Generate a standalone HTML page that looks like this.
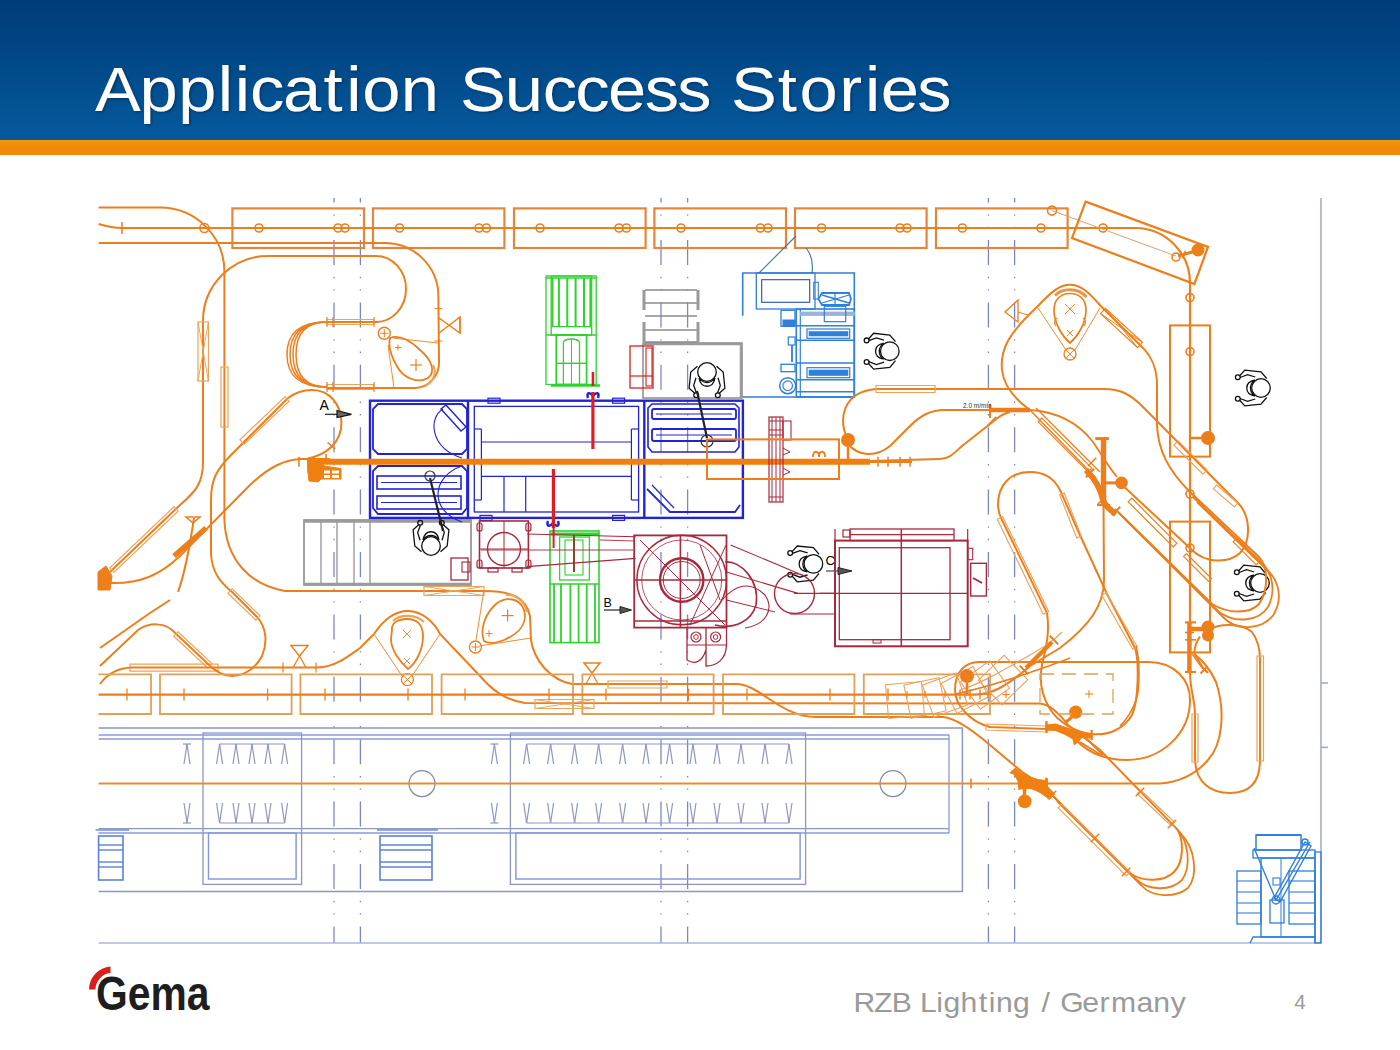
<!DOCTYPE html>
<html><head><meta charset="utf-8">
<style>
html,body{margin:0;padding:0;background:#fff;}
body{width:1400px;height:1050px;position:relative;overflow:hidden;font-family:"Liberation Sans",sans-serif;}
#hdr{position:absolute;left:0;top:0;width:1400px;height:140px;background:linear-gradient(#003b79 0%,#024a8a 50%,#045a9d 100%);}
#bar{position:absolute;left:0;top:140px;width:1400px;height:15px;background:linear-gradient(#f6920c,#ef8907 60%,#f28d0a);}
svg#d{position:absolute;left:0;top:0;}
</style></head><body>
<div id="hdr"></div><div id="bar"></div>
<svg id="d" width="1400" height="1050" viewBox="0 0 1400 1050" font-family="Liberation Sans, sans-serif"><line x1="334" y1="198" x2="334" y2="943" stroke="#7b88c8" stroke-width="1.3" stroke-dasharray="25 11.8 1.4 11 1.4 11.8" stroke-dashoffset="20.4"/>
<line x1="360.4" y1="198" x2="360.4" y2="943" stroke="#7b88c8" stroke-width="1.3" stroke-dasharray="25 11.8 1.4 11 1.4 11.8" stroke-dashoffset="20.4"/>
<line x1="661" y1="198" x2="661" y2="943" stroke="#7b88c8" stroke-width="1.3" stroke-dasharray="25 11.8 1.4 11 1.4 11.8" stroke-dashoffset="20.4"/>
<line x1="687.6" y1="198" x2="687.6" y2="943" stroke="#7b88c8" stroke-width="1.3" stroke-dasharray="25 11.8 1.4 11 1.4 11.8" stroke-dashoffset="20.4"/>
<line x1="988.4" y1="198" x2="988.4" y2="943" stroke="#7b88c8" stroke-width="1.3" stroke-dasharray="25 11.8 1.4 11 1.4 11.8" stroke-dashoffset="20.4"/>
<line x1="1014.6" y1="198" x2="1014.6" y2="943" stroke="#7b88c8" stroke-width="1.3" stroke-dasharray="25 11.8 1.4 11 1.4 11.8" stroke-dashoffset="20.4"/>
<line x1="1321" y1="198" x2="1321" y2="943" stroke="#a0a6c8" stroke-width="1.5" />
<line x1="1321" y1="683" x2="1328" y2="683" stroke="#a0a6c8" stroke-width="1.5" />
<line x1="1321" y1="747.4" x2="1328" y2="747.4" stroke="#a0a6c8" stroke-width="1.5" />
<line x1="98.6" y1="943" x2="1321" y2="943" stroke="#a9b6e0" stroke-width="1.3" />
<path d="M98.6,728 L962.4,728 L962.4,891.6 L98.6,891.6" stroke="#8c96bf" stroke-width="1.5" fill="none" />
<line x1="98.6" y1="735" x2="949" y2="735" stroke="#8a9ad8" stroke-width="1.3" />
<line x1="98.6" y1="739" x2="949" y2="739" stroke="#8a9ad8" stroke-width="1.3" />
<line x1="98.6" y1="828.6" x2="949" y2="828.6" stroke="#8c96bf" stroke-width="1.3" />
<line x1="98.6" y1="833" x2="949" y2="833" stroke="#8a9ad8" stroke-width="1.3" />
<line x1="949" y1="735" x2="949" y2="833" stroke="#8a9ad8" stroke-width="1.3" />
<rect x="203" y="733" width="98.6" height="151.4" stroke="#8c96bf" stroke-width="1.3" fill="none" />
<rect x="208.5" y="833" width="87.6" height="46" stroke="#8a9ad8" stroke-width="1.5" fill="none" />
<rect x="510.4" y="733" width="295.2" height="151.4" stroke="#8c96bf" stroke-width="1.3" fill="none" />
<rect x="515.9" y="833" width="284.2" height="46" stroke="#8a9ad8" stroke-width="1.5" fill="none" />
<line x1="187" y1="744" x2="184" y2="764" stroke="#8c96bf" stroke-width="1.2" />
<line x1="187" y1="744" x2="190" y2="764" stroke="#8c96bf" stroke-width="1.2" />
<line x1="184" y1="803" x2="187" y2="823" stroke="#8c96bf" stroke-width="1.2" />
<line x1="190" y1="803" x2="187" y2="823" stroke="#8c96bf" stroke-width="1.2" />
<line x1="183" y1="744" x2="191" y2="744" stroke="#8c96bf" stroke-width="1.2" />
<line x1="183" y1="823" x2="191" y2="823" stroke="#8c96bf" stroke-width="1.2" />
<line x1="219.6" y1="744" x2="216.6" y2="764" stroke="#8c96bf" stroke-width="1.2" />
<line x1="219.6" y1="744" x2="222.6" y2="764" stroke="#8c96bf" stroke-width="1.2" />
<line x1="216.6" y1="803" x2="219.6" y2="823" stroke="#8c96bf" stroke-width="1.2" />
<line x1="222.6" y1="803" x2="219.6" y2="823" stroke="#8c96bf" stroke-width="1.2" />
<line x1="236" y1="744" x2="233" y2="764" stroke="#8c96bf" stroke-width="1.2" />
<line x1="236" y1="744" x2="239" y2="764" stroke="#8c96bf" stroke-width="1.2" />
<line x1="233" y1="803" x2="236" y2="823" stroke="#8c96bf" stroke-width="1.2" />
<line x1="239" y1="803" x2="236" y2="823" stroke="#8c96bf" stroke-width="1.2" />
<line x1="252" y1="744" x2="249" y2="764" stroke="#8c96bf" stroke-width="1.2" />
<line x1="252" y1="744" x2="255" y2="764" stroke="#8c96bf" stroke-width="1.2" />
<line x1="249" y1="803" x2="252" y2="823" stroke="#8c96bf" stroke-width="1.2" />
<line x1="255" y1="803" x2="252" y2="823" stroke="#8c96bf" stroke-width="1.2" />
<line x1="268" y1="744" x2="265" y2="764" stroke="#8c96bf" stroke-width="1.2" />
<line x1="268" y1="744" x2="271" y2="764" stroke="#8c96bf" stroke-width="1.2" />
<line x1="265" y1="803" x2="268" y2="823" stroke="#8c96bf" stroke-width="1.2" />
<line x1="271" y1="803" x2="268" y2="823" stroke="#8c96bf" stroke-width="1.2" />
<line x1="284.6" y1="744" x2="281.6" y2="764" stroke="#8c96bf" stroke-width="1.2" />
<line x1="284.6" y1="744" x2="287.6" y2="764" stroke="#8c96bf" stroke-width="1.2" />
<line x1="281.6" y1="803" x2="284.6" y2="823" stroke="#8c96bf" stroke-width="1.2" />
<line x1="287.6" y1="803" x2="284.6" y2="823" stroke="#8c96bf" stroke-width="1.2" />
<line x1="219.6" y1="744" x2="284.6" y2="744" stroke="#8c96bf" stroke-width="1.2" />
<line x1="219.6" y1="823" x2="284.6" y2="823" stroke="#8c96bf" stroke-width="1.2" />
<line x1="494.4" y1="744" x2="491.4" y2="764" stroke="#8c96bf" stroke-width="1.2" />
<line x1="494.4" y1="744" x2="497.4" y2="764" stroke="#8c96bf" stroke-width="1.2" />
<line x1="491.4" y1="803" x2="494.4" y2="823" stroke="#8c96bf" stroke-width="1.2" />
<line x1="497.4" y1="803" x2="494.4" y2="823" stroke="#8c96bf" stroke-width="1.2" />
<line x1="490.4" y1="744" x2="498.4" y2="744" stroke="#8c96bf" stroke-width="1.2" />
<line x1="490.4" y1="823" x2="498.4" y2="823" stroke="#8c96bf" stroke-width="1.2" />
<line x1="526.6" y1="744" x2="523.6" y2="764" stroke="#8c96bf" stroke-width="1.2" />
<line x1="526.6" y1="744" x2="529.6" y2="764" stroke="#8c96bf" stroke-width="1.2" />
<line x1="523.6" y1="803" x2="526.6" y2="823" stroke="#8c96bf" stroke-width="1.2" />
<line x1="529.6" y1="803" x2="526.6" y2="823" stroke="#8c96bf" stroke-width="1.2" />
<line x1="550.6" y1="744" x2="547.6" y2="764" stroke="#8c96bf" stroke-width="1.2" />
<line x1="550.6" y1="744" x2="553.6" y2="764" stroke="#8c96bf" stroke-width="1.2" />
<line x1="547.6" y1="803" x2="550.6" y2="823" stroke="#8c96bf" stroke-width="1.2" />
<line x1="553.6" y1="803" x2="550.6" y2="823" stroke="#8c96bf" stroke-width="1.2" />
<line x1="574.6" y1="744" x2="571.6" y2="764" stroke="#8c96bf" stroke-width="1.2" />
<line x1="574.6" y1="744" x2="577.6" y2="764" stroke="#8c96bf" stroke-width="1.2" />
<line x1="571.6" y1="803" x2="574.6" y2="823" stroke="#8c96bf" stroke-width="1.2" />
<line x1="577.6" y1="803" x2="574.6" y2="823" stroke="#8c96bf" stroke-width="1.2" />
<line x1="598.6" y1="744" x2="595.6" y2="764" stroke="#8c96bf" stroke-width="1.2" />
<line x1="598.6" y1="744" x2="601.6" y2="764" stroke="#8c96bf" stroke-width="1.2" />
<line x1="595.6" y1="803" x2="598.6" y2="823" stroke="#8c96bf" stroke-width="1.2" />
<line x1="601.6" y1="803" x2="598.6" y2="823" stroke="#8c96bf" stroke-width="1.2" />
<line x1="622.6" y1="744" x2="619.6" y2="764" stroke="#8c96bf" stroke-width="1.2" />
<line x1="622.6" y1="744" x2="625.6" y2="764" stroke="#8c96bf" stroke-width="1.2" />
<line x1="619.6" y1="803" x2="622.6" y2="823" stroke="#8c96bf" stroke-width="1.2" />
<line x1="625.6" y1="803" x2="622.6" y2="823" stroke="#8c96bf" stroke-width="1.2" />
<line x1="646" y1="744" x2="643" y2="764" stroke="#8c96bf" stroke-width="1.2" />
<line x1="646" y1="744" x2="649" y2="764" stroke="#8c96bf" stroke-width="1.2" />
<line x1="643" y1="803" x2="646" y2="823" stroke="#8c96bf" stroke-width="1.2" />
<line x1="649" y1="803" x2="646" y2="823" stroke="#8c96bf" stroke-width="1.2" />
<line x1="669.6" y1="744" x2="666.6" y2="764" stroke="#8c96bf" stroke-width="1.2" />
<line x1="669.6" y1="744" x2="672.6" y2="764" stroke="#8c96bf" stroke-width="1.2" />
<line x1="666.6" y1="803" x2="669.6" y2="823" stroke="#8c96bf" stroke-width="1.2" />
<line x1="672.6" y1="803" x2="669.6" y2="823" stroke="#8c96bf" stroke-width="1.2" />
<line x1="693" y1="744" x2="690" y2="764" stroke="#8c96bf" stroke-width="1.2" />
<line x1="693" y1="744" x2="696" y2="764" stroke="#8c96bf" stroke-width="1.2" />
<line x1="690" y1="803" x2="693" y2="823" stroke="#8c96bf" stroke-width="1.2" />
<line x1="696" y1="803" x2="693" y2="823" stroke="#8c96bf" stroke-width="1.2" />
<line x1="717" y1="744" x2="714" y2="764" stroke="#8c96bf" stroke-width="1.2" />
<line x1="717" y1="744" x2="720" y2="764" stroke="#8c96bf" stroke-width="1.2" />
<line x1="714" y1="803" x2="717" y2="823" stroke="#8c96bf" stroke-width="1.2" />
<line x1="720" y1="803" x2="717" y2="823" stroke="#8c96bf" stroke-width="1.2" />
<line x1="741" y1="744" x2="738" y2="764" stroke="#8c96bf" stroke-width="1.2" />
<line x1="741" y1="744" x2="744" y2="764" stroke="#8c96bf" stroke-width="1.2" />
<line x1="738" y1="803" x2="741" y2="823" stroke="#8c96bf" stroke-width="1.2" />
<line x1="744" y1="803" x2="741" y2="823" stroke="#8c96bf" stroke-width="1.2" />
<line x1="765" y1="744" x2="762" y2="764" stroke="#8c96bf" stroke-width="1.2" />
<line x1="765" y1="744" x2="768" y2="764" stroke="#8c96bf" stroke-width="1.2" />
<line x1="762" y1="803" x2="765" y2="823" stroke="#8c96bf" stroke-width="1.2" />
<line x1="768" y1="803" x2="765" y2="823" stroke="#8c96bf" stroke-width="1.2" />
<line x1="789" y1="744" x2="786" y2="764" stroke="#8c96bf" stroke-width="1.2" />
<line x1="789" y1="744" x2="792" y2="764" stroke="#8c96bf" stroke-width="1.2" />
<line x1="786" y1="803" x2="789" y2="823" stroke="#8c96bf" stroke-width="1.2" />
<line x1="792" y1="803" x2="789" y2="823" stroke="#8c96bf" stroke-width="1.2" />
<line x1="526.6" y1="744" x2="789" y2="744" stroke="#8c96bf" stroke-width="1.2" />
<line x1="526.6" y1="823" x2="789" y2="823" stroke="#8c96bf" stroke-width="1.2" />
<circle cx="422" cy="783.6" r="13" stroke="#7f86a8" stroke-width="1.2" fill="none"/>
<circle cx="893" cy="783.6" r="13" stroke="#7f86a8" stroke-width="1.2" fill="none"/>
<line x1="98.6" y1="783.6" x2="1040" y2="783.6" stroke="#ec8a30" stroke-width="2" />
<rect x="98.6" y="836" width="24.4" height="44" stroke="#5b82d8" stroke-width="1.6" fill="none" />
<line x1="98.6" y1="845" x2="123" y2="845" stroke="#5b82d8" stroke-width="1.4" />
<line x1="98.6" y1="850" x2="123" y2="850" stroke="#5b82d8" stroke-width="1.4" />
<line x1="98.6" y1="862" x2="123" y2="862" stroke="#5b82d8" stroke-width="1.4" />
<line x1="98.6" y1="867" x2="123" y2="867" stroke="#5b82d8" stroke-width="1.4" />
<line x1="95.6" y1="830" x2="129" y2="830" stroke="#6a8ce0" stroke-width="1.6" />
<rect x="380" y="836" width="52" height="44" stroke="#5b82d8" stroke-width="1.6" fill="none" />
<line x1="380" y1="845" x2="432" y2="845" stroke="#5b82d8" stroke-width="1.4" />
<line x1="380" y1="850" x2="432" y2="850" stroke="#5b82d8" stroke-width="1.4" />
<line x1="380" y1="862" x2="432" y2="862" stroke="#5b82d8" stroke-width="1.4" />
<line x1="380" y1="867" x2="432" y2="867" stroke="#5b82d8" stroke-width="1.4" />
<line x1="377" y1="830" x2="438" y2="830" stroke="#6a8ce0" stroke-width="1.6" />
<rect x="232.4" y="208.4" width="131.6" height="39.6" stroke="#e4863a" stroke-width="2.2" fill="none" />
<rect x="373" y="208.4" width="131.4" height="39.6" stroke="#e4863a" stroke-width="2.2" fill="none" />
<rect x="514" y="208.4" width="131.6" height="39.6" stroke="#e4863a" stroke-width="2.2" fill="none" />
<rect x="654.4" y="208.4" width="131.6" height="39.6" stroke="#e4863a" stroke-width="2.2" fill="none" />
<rect x="795" y="208.4" width="131.6" height="39.6" stroke="#e4863a" stroke-width="2.2" fill="none" />
<rect x="936" y="208.4" width="131.6" height="39.6" stroke="#e4863a" stroke-width="2.2" fill="none" />
<path d="M98.6,224 Q112,228 122,228 L1136,228 A55,55 0 0 1 1190,283 L1190,660" stroke="#ec7f1c" stroke-width="2.2" fill="none" />
<line x1="122.0" y1="222.0" x2="122.0" y2="234.0" stroke="#ec7f1c" stroke-width="1.5" />
<circle cx="259" cy="228" r="4" stroke="#ec7f1c" stroke-width="1.6" fill="none"/>
<circle cx="338" cy="228" r="4" stroke="#ec7f1c" stroke-width="1.6" fill="none"/>
<circle cx="345" cy="228" r="4" stroke="#ec7f1c" stroke-width="1.6" fill="none"/>
<circle cx="399.6" cy="228" r="4" stroke="#ec7f1c" stroke-width="1.6" fill="none"/>
<circle cx="479" cy="228" r="4" stroke="#ec7f1c" stroke-width="1.6" fill="none"/>
<circle cx="486.4" cy="228" r="4" stroke="#ec7f1c" stroke-width="1.6" fill="none"/>
<circle cx="540" cy="228" r="4" stroke="#ec7f1c" stroke-width="1.6" fill="none"/>
<circle cx="619" cy="228" r="4" stroke="#ec7f1c" stroke-width="1.6" fill="none"/>
<circle cx="626.4" cy="228" r="4" stroke="#ec7f1c" stroke-width="1.6" fill="none"/>
<circle cx="681" cy="228" r="4" stroke="#ec7f1c" stroke-width="1.6" fill="none"/>
<circle cx="760.4" cy="228" r="4" stroke="#ec7f1c" stroke-width="1.6" fill="none"/>
<circle cx="768" cy="228" r="4" stroke="#ec7f1c" stroke-width="1.6" fill="none"/>
<circle cx="821.6" cy="228" r="4" stroke="#ec7f1c" stroke-width="1.6" fill="none"/>
<circle cx="900" cy="228" r="4" stroke="#ec7f1c" stroke-width="1.6" fill="none"/>
<circle cx="907" cy="228" r="4" stroke="#ec7f1c" stroke-width="1.6" fill="none"/>
<circle cx="962.4" cy="228" r="4" stroke="#ec7f1c" stroke-width="1.6" fill="none"/>
<circle cx="1041" cy="228" r="4" stroke="#ec7f1c" stroke-width="1.6" fill="none"/>
<circle cx="1103" cy="228" r="4" stroke="#ec7f1c" stroke-width="1.6" fill="none"/>
<circle cx="204.4" cy="228" r="4.5" stroke="#ec7f1c" stroke-width="1.6" fill="none"/>
<circle cx="1052" cy="210.6" r="4.5" stroke="#ec7f1c" stroke-width="1.6" fill="none"/>
<line x1="1052" y1="210.6" x2="1176" y2="256" stroke="#d9a070" stroke-width="1" />
<polygon points="1085.6,201.6 1208,247 1194.4,284 1072,238" stroke="#ec7f1c" stroke-width="2.2" fill="none"/>
<circle cx="1198" cy="250" r="6.5" fill="#ec7f1c"/>
<line x1="1178" y1="256" x2="1196" y2="251" stroke="#ec7f1c" stroke-width="3" />
<line x1="1185.4" y1="250.7" x2="1182.6" y2="258.3" stroke="#ec7f1c" stroke-width="1.5" />
<circle cx="1176" cy="257" r="4" stroke="#ec7f1c" stroke-width="1.6" fill="none"/>
<circle cx="1190" cy="297.6" r="4" stroke="#ec7f1c" stroke-width="1.6" fill="none"/>
<circle cx="1190" cy="351.6" r="4" stroke="#ec7f1c" stroke-width="1.6" fill="none"/>
<rect x="1170" y="325.4" width="40" height="131.2" stroke="#ec7f1c" stroke-width="2" fill="none" />
<rect x="1170" y="521.6" width="40" height="130.8" stroke="#ec7f1c" stroke-width="2" fill="none" />
<circle cx="1208" cy="438" r="7" fill="#ec7f1c"/>
<line x1="1190" y1="438" x2="1208" y2="438" stroke="#ec7f1c" stroke-width="2.5" />
<circle cx="1190" cy="494" r="4" stroke="#ec7f1c" stroke-width="1.6" fill="none"/>
<circle cx="1190" cy="548" r="4" stroke="#ec7f1c" stroke-width="1.6" fill="none"/>
<circle cx="1208" cy="627" r="6.5" fill="#ec7f1c"/>
<circle cx="1208" cy="635.5" r="6" fill="#ec7f1c"/>
<path d="M98.6,207.6 L160,207.6 A64.4,64 0 0 1 224.4,271.6 L224.4,520" stroke="#ec7f1c" stroke-width="2" fill="none" />
<path d="M98.6,243 L385,243 A53.4,53.4 0 0 1 438.4,296.4 L439,363 A25,25 0 0 1 415,388 L327,388" stroke="#ec7f1c" stroke-width="2" fill="none" />
<path d="M268,256 L376,256 A30,33 0 0 1 376,322 L327,322" stroke="#ec7f1c" stroke-width="2" fill="none" />
<path d="M268,256 A65,65 0 0 0 203,321 L203,462 C203,484 195,492 180,505 L110,572" stroke="#ec7f1c" stroke-width="2" fill="none" />
<path d="M327,322 C298.0,322 287,334.0 287,354.5 C287,375.0 298.0,387 327,387" stroke="#ec7f1c" stroke-width="1.5" fill="none" />
<path d="M327,322 C299.8,322 290,334.9 290,354.5 C290,374.1 299.8,387 327,387" stroke="#ec7f1c" stroke-width="1.5" fill="none" />
<path d="M327,322 C301.6,322 293,335.8 293,354.5 C293,373.2 301.6,387 327,387" stroke="#ec7f1c" stroke-width="1.5" fill="none" />
<path d="M327,322 C303.4,322 296,336.7 296,354.5 C296,372.3 303.4,387 327,387" stroke="#ec7f1c" stroke-width="1.5" fill="none" />
<polygon points="327.0,324.5 373.7,324.5 373.7,319.5 327.0,319.5" stroke="#eda45a" stroke-width="1.2" fill="none"/>
<polygon points="327.0,389.5 373.7,389.5 373.7,384.5 327.0,384.5" stroke="#eda45a" stroke-width="1.2" fill="none"/>
<line x1="327.0" y1="317.0" x2="327.0" y2="327.0" stroke="#ec7f1c" stroke-width="1.2" />
<line x1="327.0" y1="382.0" x2="327.0" y2="392.0" stroke="#ec7f1c" stroke-width="1.2" />
<line x1="333.0" y1="317.0" x2="333.0" y2="327.0" stroke="#ec7f1c" stroke-width="1.2" />
<line x1="333.0" y1="382.0" x2="333.0" y2="392.0" stroke="#ec7f1c" stroke-width="1.2" />
<line x1="374.0" y1="317.0" x2="374.0" y2="327.0" stroke="#ec7f1c" stroke-width="1.2" />
<line x1="374.0" y1="382.0" x2="374.0" y2="392.0" stroke="#ec7f1c" stroke-width="1.2" />
<polyline points="439,318 460,333 460,317 439,333" stroke="#ec7f1c" stroke-width="1.5" fill="none"/>
<line x1="460" y1="317" x2="460" y2="333" stroke="#ec7f1c" stroke-width="1.5" />
<line x1="434.4" y1="308.6" x2="442.4" y2="308.6" stroke="#ec7f1c" stroke-width="1" />
<line x1="434.4" y1="341.0" x2="442.4" y2="341.0" stroke="#ec7f1c" stroke-width="1" />
<circle cx="384.3" cy="333.3" r="6" stroke="#ec7f1c" stroke-width="1.4" fill="none"/>
<line x1="380.3" y1="333.3" x2="388.3" y2="333.3" stroke="#ec7f1c" stroke-width="1" />
<line x1="384.3" y1="329.3" x2="384.3" y2="337.3" stroke="#ec7f1c" stroke-width="1" />
<path d="M390,338 C400,334 412,342 420,350 C432,360 436,372 428,378 C418,384 404,378 398,368 C392,358 388,346 390,338 Z" stroke="#ec7f1c" stroke-width="1.8" fill="none" />
<path d="M393,338 L438,343" stroke="#ec7f1c" stroke-width="0.9" fill="none" />
<path d="M388,345 L394,388" stroke="#ec7f1c" stroke-width="0.9" fill="none" />
<path d="M433,365 C437,372 434,382 425,386" stroke="#eda45a" stroke-width="2" fill="none" />
<line x1="395.0" y1="347.5" x2="401.0" y2="347.5" stroke="#ec7f1c" stroke-width="1" />
<line x1="398.0" y1="344.5" x2="398.0" y2="350.5" stroke="#ec7f1c" stroke-width="1" />
<line x1="410.0" y1="365.0" x2="422.0" y2="365.0" stroke="#ec7f1c" stroke-width="1.2" />
<line x1="416.0" y1="359.0" x2="416.0" y2="371.0" stroke="#ec7f1c" stroke-width="1.2" />
<rect x="198" y="322" width="10.4" height="59" stroke="#eda45a" stroke-width="1.2" fill="none" />
<line x1="198" y1="322" x2="208.4" y2="381" stroke="#eda45a" stroke-width="1" />
<line x1="208.4" y1="322" x2="198" y2="381" stroke="#eda45a" stroke-width="1" />
<rect x="221" y="367" width="7" height="60" stroke="#eda45a" stroke-width="1.2" fill="none" />
<polygon points="173.9,506.8 109.9,567.8 114.1,572.2 178.1,511.2" stroke="#eda45a" stroke-width="1.2" fill="none"/>
<path d="M224.4,520 C226,560 250,585 285,591 L484,591 C512,591 526,598 530,616 L531,640 C534,660 550,680 572,684 L736,684 C760,684 780,717 816,717 L943,717 C955,718 970,728 990,745" stroke="#ec7f1c" stroke-width="2" fill="none" />
<polygon points="424.0,595.5 484.0,595.5 484.0,586.5 424.0,586.5" stroke="#eda45a" stroke-width="1.2" fill="none"/>
<line x1="424.0" y1="595.5" x2="484.0" y2="586.5" stroke="#eda45a" stroke-width="1" />
<line x1="484.0" y1="595.5" x2="424.0" y2="586.5" stroke="#eda45a" stroke-width="1" />
<polygon points="130.0,671.1 218.0,671.1 218.0,664.1 130.0,664.1" stroke="#eda45a" stroke-width="1.2" fill="none"/>
<path d="M288,398 C296,392 303,390 312,390 C330,390 341.4,405 341.4,423 C341.4,442 327,455 307.6,458.5 M288,398 L232,454 C216,470 211,480 211,500 L211,554 C212,572 220,582 232,592 L258,618 C266,628 268,642 262,656 C256,668 244,676 232,676 C222,676 214,670 208,664 L172,630 C164,623 150,622 138,630 L100,666" stroke="#ec7f1c" stroke-width="2" fill="none" />
<polygon points="244.1,444.2 289.1,401.2 284.9,396.8 239.9,439.8" stroke="#eda45a" stroke-width="1.2" fill="none"/>
<polygon points="227.9,593.2 255.9,620.2 260.1,615.8 232.1,588.8" stroke="#eda45a" stroke-width="1.2" fill="none"/>
<polygon points="173.9,636.2 207.9,668.2 212.1,663.8 178.1,631.8" stroke="#eda45a" stroke-width="1.2" fill="none"/>
<path d="M110,583 C140,584 160,575 180,556 L250,485 C270,466 285,460 300,459 L330,459" stroke="#ec7f1c" stroke-width="2" fill="none" />
<path d="M174,556 L206,528" stroke="#ec7f1c" stroke-width="5" fill="none" />
<path d="M194,518 C190,545 186,570 178,592 M170,600 L150,613 L100,648" stroke="#ec7f1c" stroke-width="2" fill="none" />
<path d="M98,572 L106,566 L112,576 L110,590 L98,590 Z" stroke="#ec7f1c" stroke-width="1" fill="#ec7f1c" />
<path d="M100,684 C106,676 116,668 132,667.6 L318,667.6 C336,667 350,655 360,648 L374,634" stroke="#ec7f1c" stroke-width="2" fill="none" />
<polygon points="291,645.6 308,645.6 299.5,656" stroke="#ec7f1c" stroke-width="1.5" fill="none"/>
<line x1="299.5" y1="656" x2="293" y2="667.6" stroke="#ec7f1c" stroke-width="1.2" />
<line x1="299.5" y1="656" x2="306" y2="667.6" stroke="#ec7f1c" stroke-width="1.2" />
<line x1="283.0" y1="662.6" x2="283.0" y2="672.6" stroke="#ec7f1c" stroke-width="1.2" />
<line x1="316.0" y1="662.6" x2="316.0" y2="672.6" stroke="#ec7f1c" stroke-width="1.2" />
<polygon points="186,517 200,517 193,523" stroke="#ec7f1c" stroke-width="1.5" fill="none"/>
<path d="M374,634 C382,622 394,611 408,611 C422,611 434,622 440,634 L480,676 C492,690 505,700 525,703 L1040,703.6" stroke="#ec7f1c" stroke-width="2" fill="none" />
<path d="M392,630 C391,623 398,619 407,619 C417,619 423,625 423,636 C423,651 415,664 408,669 C400,662 391,650 391,639 Z" stroke="#ec7f1c" stroke-width="1.8" fill="none" />
<path d="M393,621 C400,614 416,614 424,622" stroke="#eda45a" stroke-width="2.2" fill="none" />
<path d="M374,634 L402,676 M440,634 L412,676" stroke="#ec7f1c" stroke-width="0.9" fill="none" />
<circle cx="407.4" cy="679.6" r="6" stroke="#ec7f1c" stroke-width="1.3" fill="none"/>
<line x1="403" y1="675.6" x2="411.8" y2="683.6" stroke="#ec7f1c" stroke-width="1" />
<line x1="411.8" y1="675.6" x2="403" y2="683.6" stroke="#ec7f1c" stroke-width="1" />
<line x1="403" y1="630" x2="411" y2="638" stroke="#d69a60" stroke-width="1" />
<line x1="411" y1="630" x2="403" y2="638" stroke="#d69a60" stroke-width="1" />
<line x1="404" y1="658" x2="410" y2="664" stroke="#d69a60" stroke-width="1" />
<line x1="410" y1="658" x2="404" y2="664" stroke="#d69a60" stroke-width="1" />
<polygon points="535.0,708.5 594.0,708.5 594.0,699.5 535.0,699.5" stroke="#eda45a" stroke-width="1.2" fill="none"/>
<line x1="535.0" y1="708.5" x2="594.0" y2="699.5" stroke="#eda45a" stroke-width="1" />
<line x1="594.0" y1="708.5" x2="535.0" y2="699.5" stroke="#eda45a" stroke-width="1" />
<path d="M484,590 L476,640" stroke="#ec7f1c" stroke-width="0.9" fill="none" />
<path d="M479,646 L531,638" stroke="#ec7f1c" stroke-width="0.9" fill="none" />
<path d="M484,641 C480,630 484,615 496,604 C506,596 520,598 524,610 C528,624 518,634 504,640 C496,643 488,644 484,641 Z" stroke="#ec7f1c" stroke-width="1.8" fill="none" />
<path d="M506,595 C516,594 524,600 527,612" stroke="#eda45a" stroke-width="2.2" fill="none" />
<circle cx="475.4" cy="647" r="6" stroke="#ec7f1c" stroke-width="1.3" fill="none"/>
<line x1="471.4" y1="647.0" x2="479.4" y2="647.0" stroke="#ec7f1c" stroke-width="1" />
<line x1="475.4" y1="643.0" x2="475.4" y2="651.0" stroke="#ec7f1c" stroke-width="1" />
<line x1="501.6" y1="615.6" x2="513.6" y2="615.6" stroke="#ec7f1c" stroke-width="1.2" />
<line x1="507.6" y1="609.6" x2="507.6" y2="621.6" stroke="#ec7f1c" stroke-width="1.2" />
<line x1="485.5" y1="633.6" x2="492.5" y2="633.6" stroke="#ec7f1c" stroke-width="1" />
<line x1="489.0" y1="630.1" x2="489.0" y2="637.1" stroke="#ec7f1c" stroke-width="1" />
<polygon points="584,663 600,663 592,673" stroke="#ec7f1c" stroke-width="1.5" fill="none"/>
<line x1="592" y1="673" x2="586" y2="684" stroke="#ec7f1c" stroke-width="1.2" />
<line x1="592" y1="673" x2="598" y2="684" stroke="#ec7f1c" stroke-width="1.2" />
<polygon points="608.0,688.0 667.0,688.0 667.0,681.0 608.0,681.0" stroke="#eda45a" stroke-width="1.2" fill="none"/>
<path d="M98.6,674.4 L151,674.4 L151,714 L98.6,714" stroke="#e0a058" stroke-width="1.8" fill="none" />
<path d="M160,674.4 L291.6,674.4 L291.6,714 L160,714 Z" stroke="#e0a058" stroke-width="1.8" fill="none" />
<path d="M300.4,674.4 L432,674.4 L432,714 L300.4,714 Z" stroke="#e0a058" stroke-width="1.8" fill="none" />
<path d="M441.6,674.4 L573,674.4 L573,714 L441.6,714 Z" stroke="#e0a058" stroke-width="1.8" fill="none" />
<path d="M582.4,674.4 L713.6,674.4 L713.6,714 L582.4,714 Z" stroke="#e0a058" stroke-width="1.8" fill="none" />
<path d="M723,674.4 L854.4,674.4 L854.4,714 L723,714 Z" stroke="#e0a058" stroke-width="1.8" fill="none" />
<path d="M863.8,674.4 L990,674.4 L990,714 L863.8,714 Z" stroke="#e0a058" stroke-width="1.8" fill="none" />
<path d="M98.6,694.6 L975,694.6 C990,694.6 1005,688 1030,666" stroke="#ec7f1c" stroke-width="2.2" fill="none" />
<line x1="127.0" y1="688.6" x2="127.0" y2="700.6" stroke="#ec7f1c" stroke-width="1.3" />
<line x1="184.0" y1="688.6" x2="184.0" y2="700.6" stroke="#ec7f1c" stroke-width="1.3" />
<line x1="267.6" y1="688.6" x2="267.6" y2="700.6" stroke="#ec7f1c" stroke-width="1.3" />
<line x1="325.0" y1="688.6" x2="325.0" y2="700.6" stroke="#ec7f1c" stroke-width="1.3" />
<line x1="408.0" y1="688.6" x2="408.0" y2="700.6" stroke="#ec7f1c" stroke-width="1.3" />
<line x1="465.0" y1="688.6" x2="465.0" y2="700.6" stroke="#ec7f1c" stroke-width="1.3" />
<line x1="549.0" y1="688.6" x2="549.0" y2="700.6" stroke="#ec7f1c" stroke-width="1.3" />
<line x1="606.0" y1="688.6" x2="606.0" y2="700.6" stroke="#ec7f1c" stroke-width="1.3" />
<line x1="688.4" y1="688.6" x2="688.4" y2="700.6" stroke="#ec7f1c" stroke-width="1.3" />
<line x1="747.0" y1="688.6" x2="747.0" y2="700.6" stroke="#ec7f1c" stroke-width="1.3" />
<line x1="830.0" y1="688.6" x2="830.0" y2="700.6" stroke="#ec7f1c" stroke-width="1.3" />
<line x1="888.0" y1="688.6" x2="888.0" y2="700.6" stroke="#ec7f1c" stroke-width="1.3" />
<rect x="304" y="520" width="167" height="65" stroke="#8a8a8a" stroke-width="1.6" fill="none" />
<line x1="321" y1="520" x2="321" y2="585" stroke="#8a8a8a" stroke-width="1.2" />
<line x1="337" y1="520" x2="337" y2="585" stroke="#8a8a8a" stroke-width="1.2" />
<line x1="354" y1="520" x2="354" y2="585" stroke="#8a8a8a" stroke-width="1.2" />
<line x1="370" y1="520" x2="370" y2="585" stroke="#8a8a8a" stroke-width="1.2" />
<line x1="304" y1="521.5" x2="471" y2="521.5" stroke="#9a9a9a" stroke-width="2.5" />
<line x1="304" y1="584" x2="471" y2="584" stroke="#9a9a9a" stroke-width="2.5" />
<rect x="643" y="343" width="99" height="55" stroke="#8a8a8a" stroke-width="1.5" fill="none" />
<line x1="643" y1="344" x2="742" y2="344" stroke="#9a9a9a" stroke-width="2.5" />
<line x1="741" y1="343" x2="741" y2="398" stroke="#9a9a9a" stroke-width="2.5" />
<line x1="645" y1="290" x2="697" y2="290" stroke="#8a8a8a" stroke-width="1.4" />
<line x1="645" y1="303" x2="697" y2="303" stroke="#8a8a8a" stroke-width="1.4" />
<line x1="645" y1="316" x2="697" y2="316" stroke="#8a8a8a" stroke-width="1.4" />
<line x1="645" y1="330" x2="697" y2="330" stroke="#8a8a8a" stroke-width="1.4" />
<line x1="645" y1="342" x2="697" y2="342" stroke="#8a8a8a" stroke-width="1.4" />
<line x1="644" y1="290" x2="644" y2="310" stroke="#999" stroke-width="3" />
<line x1="644" y1="322" x2="644" y2="342" stroke="#999" stroke-width="3" />
<line x1="698" y1="290" x2="698" y2="310" stroke="#999" stroke-width="3" />
<line x1="698" y1="322" x2="698" y2="342" stroke="#999" stroke-width="3" />
<rect x="370" y="400.7" width="372.9" height="117.2" stroke="#2323d6" stroke-width="2.4" fill="none" />
<line x1="468" y1="400.7" x2="468" y2="517.9" stroke="#2323d6" stroke-width="2.4" />
<line x1="644.3" y1="400.7" x2="644.3" y2="517.9" stroke="#2323d6" stroke-width="2.4" />
<rect x="474.3" y="406.4" width="164.3" height="105.6" stroke="#2323d6" stroke-width="1.3" fill="none" />
<line x1="481.4" y1="442" x2="631.4" y2="442" stroke="#2323d6" stroke-width="1.2" />
<line x1="481.4" y1="476.4" x2="631.4" y2="476.4" stroke="#2323d6" stroke-width="1.2" />
<line x1="481.4" y1="429" x2="481.4" y2="500" stroke="#2323d6" stroke-width="1.2" />
<line x1="631.4" y1="429" x2="631.4" y2="500" stroke="#2323d6" stroke-width="1.2" />
<line x1="474.3" y1="429" x2="481.4" y2="429" stroke="#2323d6" stroke-width="1.2" />
<line x1="474.3" y1="500" x2="481.4" y2="500" stroke="#2323d6" stroke-width="1.2" />
<line x1="631.4" y1="429" x2="638.6" y2="429" stroke="#2323d6" stroke-width="1.2" />
<line x1="631.4" y1="500" x2="638.6" y2="500" stroke="#2323d6" stroke-width="1.2" />
<line x1="504" y1="476.4" x2="504" y2="512" stroke="#2323d6" stroke-width="1.2" />
<line x1="525.7" y1="476.4" x2="525.7" y2="512" stroke="#2323d6" stroke-width="1.2" />
<path d="M378,404 L462,404 L467,409 L467,449 L462,454 L378,454 L373,449 L373,409 Z" stroke="#2323d6" stroke-width="1.8" fill="none" />
<path d="M378,466 L462,466 L467,471 L467,508 L462,514 L378,514 L373,508 L373,471 Z" stroke="#2323d6" stroke-width="1.8" fill="none" />
<rect x="377" y="476" width="84" height="13" stroke="#2323d6" stroke-width="1.6" fill="none" />
<rect x="377" y="496" width="84" height="13" stroke="#2323d6" stroke-width="1.6" fill="none" />
<line x1="381" y1="482.5" x2="457" y2="482.5" stroke="#2323d6" stroke-width="1" />
<line x1="381" y1="502.5" x2="457" y2="502.5" stroke="#2323d6" stroke-width="1" />
<polygon points="441,409 446,405 466,427 461,431" stroke="#2323d6" stroke-width="1.4" fill="none"/>
<path d="M443,409 C428,418 430,448 462,458" stroke="#2323d6" stroke-width="1.1" fill="none" />
<path d="M462,466 C432,476 428,510 462,522" stroke="#2323d6" stroke-width="1.1" fill="none" />
<path d="M652,404 L735,404 L739,408 L739,447 L735,452 L652,452 L648,447 L648,408 Z" stroke="#2323d6" stroke-width="1.6" fill="none" />
<rect x="652" y="409" width="84" height="10" stroke="#2323d6" stroke-width="1.8" fill="none" rx="2"/>
<rect x="652" y="429" width="84" height="12" stroke="#2323d6" stroke-width="1.8" fill="none" rx="2"/>
<line x1="656" y1="414" x2="732" y2="414" stroke="#2323d6" stroke-width="1" />
<line x1="656" y1="435" x2="732" y2="435" stroke="#2323d6" stroke-width="1" />
<path d="M647,489 L670,512 L735,512 L740,505" stroke="#2323d6" stroke-width="1.8" fill="none" />
<line x1="652" y1="485" x2="674" y2="508" stroke="#2323d6" stroke-width="1.2" />
<rect x="488" y="398.2" width="12" height="5.0" stroke="#2323d6" stroke-width="1.2" fill="none" />
<rect x="612.6" y="398.2" width="12.0" height="5.0" stroke="#2323d6" stroke-width="1.2" fill="none" />
<rect x="480" y="515.4" width="12" height="5.0" stroke="#2323d6" stroke-width="1.2" fill="none" />
<rect x="612.6" y="515.4" width="12.0" height="5.0" stroke="#2323d6" stroke-width="1.2" fill="none" />
<path d="M588,398 C586,392 590,392 593,396 C596,392 600,392 598,398" stroke="#2323d6" stroke-width="2.5" fill="none" />
<path d="M548,521 C546,527 550,527 553,523 C556,527 560,527 558,521" stroke="#2323d6" stroke-width="2.5" fill="none" />
<line x1="592.9" y1="392" x2="592.9" y2="449" stroke="#e21c1c" stroke-width="3.2" />
<line x1="553.4" y1="469" x2="553.4" y2="528" stroke="#e21c1c" stroke-width="3.2" />
<line x1="307.6" y1="461.8" x2="870" y2="461.8" stroke="#f07f0e" stroke-width="6" />
<polygon points="307.6,459 321,459 324,466 341,468.6 341,479 321,479 318,482 309,481 307.6,470" stroke="#f08010" stroke-width="1" fill="#f08010"/>
<rect x="324" y="470.5" width="6" height="3.0" stroke="#fff" stroke-width="0" fill="#fff" />
<rect x="332" y="470.5" width="7" height="3.0" stroke="#fff" stroke-width="0" fill="#fff" />
<rect x="324" y="475" width="6" height="3" stroke="#fff" stroke-width="0" fill="#fff" />
<rect x="332" y="475" width="7" height="3" stroke="#fff" stroke-width="0" fill="#fff" />
<line x1="299.0" y1="456.8" x2="299.0" y2="466.8" stroke="#ec7f1c" stroke-width="1.6" />
<line x1="327.6" y1="442.5" x2="335.2" y2="448.9" stroke="#ec7f1c" stroke-width="1.6" />
<line x1="326.0" y1="454.0" x2="326.0" y2="462.0" stroke="#ec7f1c" stroke-width="1.6" />
<text x="319.5" y="409.5" font-size="14" fill="#000" >A</text>
<line x1="325" y1="414.3" x2="338" y2="414.3" stroke="#222" stroke-width="1.2" />
<polygon points="337,410.5 351.4,414.3 337,417.6" stroke="#111" stroke-width="1.2" fill="#666"/>
<g transform="translate(889.8,351.2) rotate(0) scale(1.0)" stroke="#111" stroke-width="1.3" fill="none"><circle cx="0" cy="0" r="9.3" fill="#fff"/><path d="M-6,-8 C-17,-6 -17,6 -6,8 M-6,-8 C-12,-4 -12,4 -6,8"/><path d="M5.7,-9.5 L0,-16.2 L-16.2,-17.9 L-21.5,-12 M-21,-10.5 L-13.4,-13.3 L-5.8,-11"/><path d="M5.7,9.5 L0,16.2 L-16.2,17.9 L-21.5,12 M-21,10.5 L-13.4,13.3 L-5.8,11"/><circle cx="-23.2" cy="-10.8" r="2.4"/><circle cx="-23.2" cy="10.8" r="2.4"/></g>
<g transform="translate(813.4,563.9) rotate(0) scale(1.0)" stroke="#111" stroke-width="1.3" fill="none"><circle cx="0" cy="0" r="9.3" fill="#fff"/><path d="M-6,-8 C-17,-6 -17,6 -6,8 M-6,-8 C-12,-4 -12,4 -6,8"/><path d="M5.7,-9.5 L0,-16.2 L-16.2,-17.9 L-21.5,-12 M-21,-10.5 L-13.4,-13.3 L-5.8,-11"/><path d="M5.7,9.5 L0,16.2 L-16.2,17.9 L-21.5,12 M-21,10.5 L-13.4,13.3 L-5.8,11"/><circle cx="-23.2" cy="-10.8" r="2.4"/><circle cx="-23.2" cy="10.8" r="2.4"/></g>
<g transform="translate(1261,388) rotate(0) scale(1.0)" stroke="#111" stroke-width="1.3" fill="none"><circle cx="0" cy="0" r="9.3" fill="#fff"/><path d="M-6,-8 C-17,-6 -17,6 -6,8 M-6,-8 C-12,-4 -12,4 -6,8"/><path d="M5.7,-9.5 L0,-16.2 L-16.2,-17.9 L-21.5,-12 M-21,-10.5 L-13.4,-13.3 L-5.8,-11"/><path d="M5.7,9.5 L0,16.2 L-16.2,17.9 L-21.5,12 M-21,10.5 L-13.4,13.3 L-5.8,11"/><circle cx="-23.2" cy="-10.8" r="2.4"/><circle cx="-23.2" cy="10.8" r="2.4"/></g>
<g transform="translate(1260,583) rotate(0) scale(1.0)" stroke="#111" stroke-width="1.3" fill="none"><circle cx="0" cy="0" r="9.3" fill="#fff"/><path d="M-6,-8 C-17,-6 -17,6 -6,8 M-6,-8 C-12,-4 -12,4 -6,8"/><path d="M5.7,-9.5 L0,-16.2 L-16.2,-17.9 L-21.5,-12 M-21,-10.5 L-13.4,-13.3 L-5.8,-11"/><path d="M5.7,9.5 L0,16.2 L-16.2,17.9 L-21.5,12 M-21,10.5 L-13.4,13.3 L-5.8,11"/><circle cx="-23.2" cy="-10.8" r="2.4"/><circle cx="-23.2" cy="10.8" r="2.4"/></g>
<g transform="translate(707,372) rotate(-90) scale(1.0)" stroke="#111" stroke-width="1.3" fill="none"><circle cx="0" cy="0" r="9.3" fill="#fff"/><path d="M-6,-8 C-17,-6 -17,6 -6,8 M-6,-8 C-12,-4 -12,4 -6,8"/><path d="M5.7,-9.5 L0,-16.2 L-16.2,-17.9 L-21.5,-12 M-21,-10.5 L-13.4,-13.3 L-5.8,-11"/><path d="M5.7,9.5 L0,16.2 L-16.2,17.9 L-21.5,12 M-21,10.5 L-13.4,13.3 L-5.8,11"/><circle cx="-23.2" cy="-10.8" r="2.4"/><circle cx="-23.2" cy="10.8" r="2.4"/></g>
<g transform="translate(431,546) rotate(90) scale(1.0)" stroke="#111" stroke-width="1.3" fill="none"><circle cx="0" cy="0" r="9.3" fill="#fff"/><path d="M-6,-8 C-17,-6 -17,6 -6,8 M-6,-8 C-12,-4 -12,4 -6,8"/><path d="M5.7,-9.5 L0,-16.2 L-16.2,-17.9 L-21.5,-12 M-21,-10.5 L-13.4,-13.3 L-5.8,-11"/><path d="M5.7,9.5 L0,16.2 L-16.2,17.9 L-21.5,12 M-21,10.5 L-13.4,13.3 L-5.8,11"/><circle cx="-23.2" cy="-10.8" r="2.4"/><circle cx="-23.2" cy="10.8" r="2.4"/></g>
<line x1="697" y1="391" x2="707" y2="438" stroke="#222" stroke-width="2.2" />
<circle cx="707" cy="441" r="6" stroke="#333" stroke-width="1.2" fill="none"/>
<line x1="430" y1="478" x2="443" y2="531" stroke="#222" stroke-width="2.2" />
<circle cx="430" cy="476" r="5" stroke="#333" stroke-width="1.2" fill="none"/>
<rect x="546" y="276" width="50.2" height="108.5" stroke="#2fd22f" stroke-width="1.3" fill="none" />
<rect x="551.2" y="276" width="40.5" height="59" stroke="#2fd22f" stroke-width="1.3" fill="none" />
<line x1="546" y1="278" x2="596" y2="278" stroke="#2fd22f" stroke-width="1.6" />
<line x1="552.5" y1="278" x2="552.5" y2="326.7" stroke="#2fd22f" stroke-width="2" />
<line x1="558.9" y1="278" x2="558.9" y2="326.7" stroke="#2fd22f" stroke-width="2" />
<line x1="567.3" y1="278" x2="567.3" y2="326.7" stroke="#2fd22f" stroke-width="2" />
<line x1="575.6" y1="278" x2="575.6" y2="326.7" stroke="#2fd22f" stroke-width="2" />
<line x1="584" y1="278" x2="584" y2="326.7" stroke="#2fd22f" stroke-width="2" />
<line x1="590.4" y1="278" x2="590.4" y2="326.7" stroke="#2fd22f" stroke-width="2" />
<line x1="551" y1="326.7" x2="592" y2="326.7" stroke="#2fd22f" stroke-width="1.3" />
<line x1="546" y1="335" x2="596" y2="335" stroke="#2fd22f" stroke-width="1.4" />
<rect x="556.3" y="335" width="30.3" height="49.5" stroke="#2fd22f" stroke-width="1.8" fill="none" />
<line x1="556.3" y1="363.3" x2="586.6" y2="363.3" stroke="#2fd22f" stroke-width="1.4" />
<path d="M563.4,384 L563.4,342 C566,338 577,338 579.5,342 L579.5,384" stroke="#2fd22f" stroke-width="1.3" fill="none" />
<line x1="571.5" y1="340" x2="571.5" y2="384" stroke="#2fd22f" stroke-width="1" />
<line x1="551" y1="385.5" x2="600" y2="385.5" stroke="#2fd22f" stroke-width="2.5" />
<rect x="550" y="531" width="49" height="111.6" stroke="#2fd22f" stroke-width="1.6" fill="none" />
<line x1="550" y1="534" x2="599" y2="534" stroke="#2fd22f" stroke-width="3" />
<rect x="559.6" y="537" width="29.8" height="43" stroke="#2fd22f" stroke-width="1.3" fill="none" />
<rect x="565" y="540" width="18" height="35" stroke="#2fd22f" stroke-width="1.1" fill="none" />
<line x1="550" y1="584" x2="599" y2="584" stroke="#2fd22f" stroke-width="1.4" />
<line x1="554" y1="584" x2="554" y2="642" stroke="#2fd22f" stroke-width="1.8" />
<line x1="561" y1="584" x2="561" y2="642" stroke="#2fd22f" stroke-width="1.8" />
<line x1="570.4" y1="584" x2="570.4" y2="642" stroke="#2fd22f" stroke-width="1.8" />
<line x1="578.6" y1="584" x2="578.6" y2="642" stroke="#2fd22f" stroke-width="1.8" />
<line x1="586.7" y1="584" x2="586.7" y2="642" stroke="#2fd22f" stroke-width="1.8" />
<line x1="595" y1="584" x2="595" y2="642" stroke="#2fd22f" stroke-width="1.8" />
<line x1="574" y1="535" x2="574" y2="572" stroke="#8a4a20" stroke-width="2" />
<line x1="553.6" y1="528" x2="553.6" y2="548" stroke="#e21c1c" stroke-width="2" />
<line x1="592.9" y1="372" x2="592.9" y2="386" stroke="#e21c1c" stroke-width="2.5" />
<rect x="479.5" y="521" width="48.9" height="47" stroke="#a8283c" stroke-width="1.6" fill="none" />
<circle cx="504" cy="549" r="16.5" stroke="#a8283c" stroke-width="1.4" fill="none"/>
<line x1="504" y1="521" x2="504" y2="568" stroke="#a8283c" stroke-width="1" />
<line x1="479.5" y1="549" x2="528.4" y2="549" stroke="#a8283c" stroke-width="1" />
<rect x="477.0" y="523" width="5.0" height="8" stroke="#a8283c" stroke-width="1.2" fill="none" rx="2"/>
<rect x="477.0" y="560" width="5.0" height="8" stroke="#a8283c" stroke-width="1.2" fill="none" rx="2"/>
<rect x="525.9" y="523" width="5.0" height="8" stroke="#a8283c" stroke-width="1.2" fill="none" rx="2"/>
<rect x="525.9" y="560" width="5.0" height="8" stroke="#a8283c" stroke-width="1.2" fill="none" rx="2"/>
<rect x="488" y="568" width="10" height="4" stroke="#a8283c" stroke-width="1.2" fill="none" />
<rect x="512" y="568" width="10" height="4" stroke="#a8283c" stroke-width="1.2" fill="none" />
<line x1="527" y1="534" x2="635.6" y2="536.7" stroke="#a8283c" stroke-width="1.1" />
<line x1="527" y1="566.6" x2="635.6" y2="558.4" stroke="#a8283c" stroke-width="1.1" />
<line x1="481" y1="550" x2="633" y2="550" stroke="#a8283c" stroke-width="0.9" />
<line x1="600" y1="540" x2="635" y2="541" stroke="#a8283c" stroke-width="0.9" />
<rect x="634.2" y="535.4" width="92.3" height="92.2" stroke="#a8283c" stroke-width="1.8" fill="none" />
<line x1="634.2" y1="621" x2="726.5" y2="621" stroke="#a8283c" stroke-width="1.4" />
<line x1="680.4" y1="535.4" x2="680.4" y2="627.6" stroke="#a8283c" stroke-width="1.6" />
<line x1="634.2" y1="580" x2="726.5" y2="580" stroke="#a8283c" stroke-width="1.4" />
<circle cx="681.7" cy="580" r="44.8" stroke="#a8283c" stroke-width="1.4" fill="none"/>
<circle cx="681.7" cy="580" r="40" stroke="#a8283c" stroke-width="0.8" fill="none"/>
<circle cx="681.7" cy="580" r="21.7" stroke="#a8283c" stroke-width="2.4" fill="none"/>
<circle cx="681.7" cy="580" r="18.5" stroke="#a8283c" stroke-width="1" fill="none"/>
<path d="M640,540 L725,625 M726,545 L690,625 M700,545 L720,600" stroke="#a8283c" stroke-width="1" fill="none" />
<path d="M725,562 C740,560 760,580 756,605 C752,620 735,630 715,625" stroke="#a8283c" stroke-width="1.6" fill="none" />
<path d="M722,600 C735,585 750,580 765,595 C775,610 765,625 745,628" stroke="#a8283c" stroke-width="1.1" fill="none" />
<line x1="730.6" y1="545" x2="798.4" y2="573.4" stroke="#a8283c" stroke-width="1.1" />
<line x1="726.5" y1="572" x2="798" y2="593.4" stroke="#a8283c" stroke-width="1.1" />
<line x1="726.5" y1="600" x2="775" y2="612" stroke="#a8283c" stroke-width="1" />
<circle cx="794.5" cy="593.5" r="20" stroke="#a8283c" stroke-width="1.4" fill="none"/>
<line x1="794" y1="593.4" x2="835" y2="593.4" stroke="#a8283c" stroke-width="1.1" />
<line x1="790" y1="614" x2="835" y2="614" stroke="#a8283c" stroke-width="1.1" />
<path d="M687,627.6 L687,660 C695,665 702,662 706,650 L706,627.6 M706,627.6 L706,666 C716,666 726,660 726.5,645 L726.5,627.6" stroke="#a8283c" stroke-width="1.3" fill="none" />
<line x1="687" y1="645" x2="726.5" y2="645" stroke="#a8283c" stroke-width="1" />
<circle cx="696" cy="637" r="5" stroke="#a8283c" stroke-width="1.2" fill="none"/>
<circle cx="696" cy="637" r="2.3" stroke="#a8283c" stroke-width="1" fill="none"/>
<circle cx="715.6" cy="637" r="5" stroke="#a8283c" stroke-width="1.2" fill="none"/>
<circle cx="715.6" cy="637" r="2.3" stroke="#a8283c" stroke-width="1" fill="none"/>
<rect x="835" y="540.6" width="132.7" height="105.7" stroke="#a8283c" stroke-width="2" fill="none" />
<rect x="839.3" y="547.7" width="110.7" height="92.0" stroke="#a8283c" stroke-width="1.3" fill="none" />
<line x1="901.3" y1="529" x2="901.3" y2="646.3" stroke="#a8283c" stroke-width="1.5" />
<line x1="820" y1="593.4" x2="967.7" y2="593.4" stroke="#a8283c" stroke-width="1.3" />
<rect x="850" y="529" width="104" height="11.6" stroke="#a8283c" stroke-width="1.3" fill="none" />
<line x1="850" y1="534.7" x2="954" y2="534.7" stroke="#a8283c" stroke-width="1.2" />
<line x1="835" y1="529" x2="835" y2="541" stroke="#a8283c" stroke-width="1.2" />
<line x1="967.7" y1="529" x2="967.7" y2="541" stroke="#a8283c" stroke-width="1.2" />
<rect x="843" y="530" width="7" height="7" stroke="#a8283c" stroke-width="1.2" fill="none" />
<rect x="967.7" y="548.3" width="5.0" height="11.4" stroke="#a8283c" stroke-width="1.1" fill="none" />
<rect x="970.7" y="563.3" width="15.7" height="32.7" stroke="#a8283c" stroke-width="1.4" fill="none" />
<path d="M973,578 L982,583" stroke="#a8283c" stroke-width="2" fill="none" />
<rect x="873" y="639.7" width="8" height="3.3" stroke="#a8283c" stroke-width="1" fill="none" />
<rect x="630" y="346" width="23" height="42" stroke="#d82020" stroke-width="1.3" fill="none" />
<line x1="630" y1="376" x2="653" y2="376" stroke="#d82020" stroke-width="1.2" />
<rect x="646" y="348" width="6" height="38" stroke="#d82020" stroke-width="1.1" fill="none" />
<rect x="451" y="558" width="17" height="22" stroke="#a8283c" stroke-width="1.3" fill="none" />
<rect x="462" y="562" width="8" height="10" stroke="#a8283c" stroke-width="1.1" fill="none" />
<rect x="769" y="417" width="14" height="85" stroke="#a8283c" stroke-width="1.2" fill="none" />
<line x1="772" y1="417" x2="772" y2="502" stroke="#a8283c" stroke-width="1" />
<line x1="776" y1="417" x2="776" y2="502" stroke="#a8283c" stroke-width="1" />
<line x1="780" y1="417" x2="780" y2="502" stroke="#a8283c" stroke-width="1" />
<line x1="769" y1="421" x2="783" y2="421" stroke="#a8283c" stroke-width="1" />
<line x1="769" y1="430" x2="783" y2="430" stroke="#a8283c" stroke-width="1" />
<line x1="769" y1="435" x2="783" y2="435" stroke="#a8283c" stroke-width="1" />
<line x1="769" y1="497" x2="783" y2="497" stroke="#a8283c" stroke-width="1" />
<rect x="783" y="421" width="8" height="19" stroke="#a8283c" stroke-width="1.1" fill="none" />
<path d="M783,448 L790,452 L783,455 M783,468 L790,472 L783,475" stroke="#a8283c" stroke-width="1" fill="none" />
<text x="603.5" y="606.5" font-size="12.5" fill="#000" >B</text>
<line x1="604" y1="610" x2="622" y2="610" stroke="#222" stroke-width="1.2" />
<polygon points="620,606.5 631.5,610 620,613.5" stroke="#222" stroke-width="1" fill="#555"/>
<text x="825.5" y="564.8" font-size="13" fill="#000" >C</text>
<line x1="826" y1="571" x2="840" y2="571" stroke="#555" stroke-width="1.3" />
<polygon points="838,567.5 852,571 838,574.5" stroke="#222" stroke-width="1" fill="#555"/>
<path d="M742.7,315.7 L742.7,273 L854.3,273 L854.3,397 L742.7,397" stroke="#2f7fdc" stroke-width="1.6" fill="none" />
<rect x="756.3" y="273" width="58.7" height="36" stroke="#2f7fdc" stroke-width="1.3" fill="none" />
<rect x="761.7" y="279.7" width="48.0" height="22.6" stroke="#2b4f9c" stroke-width="1.1" fill="none" />
<rect x="813.7" y="282.3" width="4.6" height="16.7" stroke="#2f7fdc" stroke-width="1.1" fill="none" />
<rect x="796.3" y="309" width="58.0" height="88" stroke="#2f7fdc" stroke-width="1.6" fill="none" />
<line x1="800.3" y1="309" x2="800.3" y2="397" stroke="#2f7fdc" stroke-width="1.2" />
<rect x="800.3" y="312" width="54.0" height="3.5" stroke="#9ab4dc" stroke-width="0.8" fill="#9ab4dc" />
<line x1="796.3" y1="325.7" x2="854.3" y2="325.7" stroke="#2f7fdc" stroke-width="1.4" />
<line x1="796.3" y1="340.3" x2="854.3" y2="340.3" stroke="#2f7fdc" stroke-width="1.4" />
<line x1="796.3" y1="363" x2="854.3" y2="363" stroke="#2f7fdc" stroke-width="1.4" />
<line x1="796.3" y1="379.7" x2="854.3" y2="379.7" stroke="#2f7fdc" stroke-width="1.4" />
<line x1="796.3" y1="391.7" x2="854.3" y2="391.7" stroke="#2f7fdc" stroke-width="1.4" />
<rect x="807" y="329" width="42.7" height="9.3" stroke="#2f7fdc" stroke-width="1.2" fill="none" />
<rect x="809" y="331.5" width="39" height="4.5" stroke="#2f7fdc" stroke-width="0.6" fill="#2f7fdc" />
<rect x="807" y="367.7" width="42.7" height="10.0" stroke="#2f7fdc" stroke-width="1.2" fill="none" />
<rect x="809" y="370" width="39" height="5.5" stroke="#2f7fdc" stroke-width="0.6" fill="#2f7fdc" />
<path d="M818.3,299 L822,293 L849,293 L851,299 L849,305 L822,305 Z" stroke="#2f7fdc" stroke-width="1.8" fill="none" />
<line x1="822" y1="295" x2="849" y2="303" stroke="#2f7fdc" stroke-width="1.4" />
<line x1="822" y1="303" x2="849" y2="295" stroke="#2f7fdc" stroke-width="1.2" />
<line x1="835" y1="293" x2="835" y2="305" stroke="#2f7fdc" stroke-width="1.2" />
<rect x="824.3" y="306.3" width="21.4" height="15.4" stroke="#2f7fdc" stroke-width="1.2" fill="none" />
<rect x="781" y="310.3" width="14" height="16.0" stroke="#2f7fdc" stroke-width="1.3" fill="none" />
<rect x="783" y="320" width="12" height="6.3" stroke="#2f7fdc" stroke-width="1" fill="#2f7fdc" />
<rect x="788.3" y="337" width="6.7" height="8" stroke="#2f7fdc" stroke-width="1.2" fill="none" />
<line x1="792" y1="345" x2="792" y2="362" stroke="#2f7fdc" stroke-width="1.8" />
<rect x="781" y="364.3" width="14" height="7.4" stroke="#2f7fdc" stroke-width="1.3" fill="none" />
<circle cx="787.7" cy="385.7" r="8" stroke="#2f7fdc" stroke-width="1.5" fill="none"/>
<circle cx="787.7" cy="385.7" r="4.8" stroke="#2f7fdc" stroke-width="1.2" fill="none"/>
<path d="M796,236 L759,273 M806,248 C812,255 813,265 812,273" stroke="#3b6fb8" stroke-width="1.1" fill="none" />
<rect x="707" y="439.4" width="132" height="39.6" stroke="#ec7f1c" stroke-width="2" fill="none" />
<path d="M813,457 C813,450 819,450 819,457 C819,450 825,450 825,457" stroke="#ec7f1c" stroke-width="1.8" fill="none" />
<circle cx="848" cy="440" r="7" fill="#ec7f1c"/>
<line x1="848" y1="447" x2="848" y2="462" stroke="#ec7f1c" stroke-width="2.5" />
<path d="M848,440 C838,420 842,392 876,389 L1104,389 C1120,389 1130,394 1142,406 L1238,503 C1250,515 1252,540 1240,553 C1228,564 1205,563 1192,550 L1120,483" stroke="#ec7f1c" stroke-width="2" fill="none" />
<polygon points="876.0,392.5 935.0,392.5 935.0,385.5 876.0,385.5" stroke="#eda45a" stroke-width="1.2" fill="none"/>
<polygon points="1173.9,445.1 1202.9,474.1 1207.1,469.9 1178.1,440.9" stroke="#eda45a" stroke-width="1.2" fill="none"/>
<polygon points="1213.4,488.9 1234.4,506.9 1237.6,503.1 1216.6,485.1" stroke="#eda45a" stroke-width="1.2" fill="none"/>
<path d="M848,444 C858,456 875,458 890,446 L910,426 C920,416 930,410 945,410 L1030,410" stroke="#ec7f1c" stroke-width="2" fill="none" />
<path d="M870,461 L940,459 C950,459 955,452 962,446 L990,424 C998,417 1004,413 1010,412" stroke="#ec7f1c" stroke-width="2" fill="none" />
<line x1="990" y1="410" x2="1030" y2="410" stroke="#ec7f1c" stroke-width="4.5" />
<line x1="870" y1="461.8" x2="912" y2="461.8" stroke="#ec7f1c" stroke-width="2.5" />
<line x1="878.0" y1="456.8" x2="878.0" y2="466.8" stroke="#ec7f1c" stroke-width="1.5" />
<line x1="888.0" y1="456.8" x2="888.0" y2="466.8" stroke="#ec7f1c" stroke-width="1.5" />
<line x1="900.0" y1="456.8" x2="900.0" y2="466.8" stroke="#ec7f1c" stroke-width="1.5" />
<line x1="910.0" y1="456.8" x2="910.0" y2="466.8" stroke="#ec7f1c" stroke-width="1.5" />
<line x1="996.2" y1="416.8" x2="987.8" y2="425.2" stroke="#ec7f1c" stroke-width="1.5" />
<line x1="990" y1="404" x2="990" y2="418" stroke="#ec7f1c" stroke-width="2" />
<text x="963" y="408" font-size="6.5" fill="#333" >2.0 m/min</text>
<path d="M1030,410 C1060,412 1080,425 1093,442 C1100,452 1108,466 1117,477" stroke="#ec7f1c" stroke-width="1.8" fill="none" />
<path d="M1103.5,504 L1104,580 C1104,605 1090,625 1060,648 L1030,666" stroke="#ec7f1c" stroke-width="2" fill="none" />
<line x1="1103.5" y1="438.6" x2="1103.5" y2="504.6" stroke="#ec7f1c" stroke-width="5.4" />
<line x1="1095.3" y1="438.6" x2="1108.9" y2="438.6" stroke="#ec7f1c" stroke-width="3" />
<line x1="1097" y1="505" x2="1110" y2="505" stroke="#ec7f1c" stroke-width="2.2" />
<path d="M1086,470 C1096,480 1101,490 1103,500 C1105,506 1110,510 1116,514" stroke="#ec7f1c" stroke-width="6" fill="none" />
<line x1="1094.2" y1="468.8" x2="1085.8" y2="477.2" stroke="#ec7f1c" stroke-width="2" />
<line x1="1120.2" y1="506.8" x2="1111.8" y2="515.2" stroke="#ec7f1c" stroke-width="2" />
<circle cx="1121.5" cy="482.9" r="6.3" fill="#ec7f1c"/>
<line x1="1104" y1="482.9" x2="1117" y2="482.9" stroke="#ec7f1c" stroke-width="3" />
<path d="M1030,410 L1096,478" stroke="#ec7f1c" stroke-width="1.5" fill="none" />
<path d="M1036,408 L1100,472" stroke="#ec7f1c" stroke-width="1.2" fill="none" />
<polygon points="1038.2,421.8 1088.2,471.8 1091.8,468.2 1041.8,418.2" stroke="#ec7f1c" stroke-width="1.2" fill="none"/>
<line x1="1096.2" y1="457.8" x2="1087.8" y2="466.2" stroke="#ec7f1c" stroke-width="1.5" />
<line x1="1106.2" y1="495.8" x2="1097.8" y2="504.2" stroke="#ec7f1c" stroke-width="1.5" />
<path d="M1030,410 C1016,400 1004,388 1002,370 C1000,350 1008,334 1036.7,307.3 C1052,291 1060,284.7 1070,284.7 C1080,284.7 1088,291 1100.7,306 L1140,345 C1152,356 1157,368 1157,385 L1157,425 C1158,450 1168,470 1190,492 L1259,557 C1268,566 1269,590 1259,604 C1250,614 1228,614 1212,604 L1115,509" stroke="#ec7f1c" stroke-width="2" fill="none" />
<path d="M1193,497 L1261,562 C1273,573 1276,592 1268,607 C1259,621 1236,624 1219,612 L1119,513" stroke="#ec7f1c" stroke-width="1.8" fill="none" />
<path d="M1197,502 L1266,569 C1279,580 1283,598 1274,614 C1264,629 1238,632 1224,618 L1124,518" stroke="#ec7f1c" stroke-width="1.8" fill="none" />
<polygon points="1128.2,501.8 1173.2,546.8 1176.8,543.2 1131.8,498.2" stroke="#ec7f1c" stroke-width="1.2" fill="none"/>
<polygon points="1183.6,556.4 1208.6,581.4 1211.4,578.6 1186.4,553.6" stroke="#ec7f1c" stroke-width="1.2" fill="none"/>
<polygon points="1100.6,313.6 1137.6,347.6 1142.4,342.4 1105.4,308.4" stroke="#ec7f1c" stroke-width="1.2" fill="none"/>
<line x1="1100.6" y1="313.6" x2="1142.4" y2="342.4" stroke="#ec7f1c" stroke-width="1" />
<line x1="1137.6" y1="347.6" x2="1105.4" y2="308.4" stroke="#ec7f1c" stroke-width="1" />
<polygon points="1233.2,541.8 1256.2,564.8 1259.8,561.2 1236.8,538.2" stroke="#ec7f1c" stroke-width="1.2" fill="none"/>
<path d="M1070,293.5 C1080,293.5 1086,300 1086,310 C1086,324 1077,337 1070,343 C1063,337 1054,324 1054,310 C1054,300 1060,293.5 1070,293.5 Z" stroke="#ec7f1c" stroke-width="1.7" fill="none" />
<path d="M1057,318 C1054,320 1054,324 1056,326 M1083,318 C1086,320 1086,324 1084,326" stroke="#ec7f1c" stroke-width="1.2" fill="none" />
<path d="M1055,295.5 C1062,288 1078,287 1086.5,297" stroke="#e8964a" stroke-width="3" fill="none" />
<path d="M1038,308 L1066,350 M1100,308 L1075,350" stroke="#ec7f1c" stroke-width="0.9" fill="none" />
<line x1="1065" y1="304" x2="1075" y2="314" stroke="#ec7f1c" stroke-width="0.9" />
<line x1="1075" y1="304" x2="1065" y2="314" stroke="#ec7f1c" stroke-width="0.9" />
<line x1="1067" y1="330" x2="1073" y2="336" stroke="#ec7f1c" stroke-width="0.9" />
<line x1="1073" y1="330" x2="1067" y2="336" stroke="#ec7f1c" stroke-width="0.9" />
<circle cx="1070" cy="354" r="6" stroke="#ec7f1c" stroke-width="1.3" fill="none"/>
<line x1="1066" y1="350" x2="1074" y2="358" stroke="#ec7f1c" stroke-width="0.9" />
<line x1="1074" y1="350" x2="1066" y2="358" stroke="#ec7f1c" stroke-width="0.9" />
<polygon points="1005,312 1018,300 1018,322" stroke="#ec7f1c" stroke-width="1.3" fill="none"/>
<line x1="1018" y1="312" x2="1028" y2="315" stroke="#ec7f1c" stroke-width="1" />
<path d="M1030,410 M998,505 C998,485 1010,472 1030,472 C1045,472 1054,478 1060,490 L1079,533 L1107,594 L1135,648 C1139,660 1139,700 1132,715 C1124,729 1108,736 1091,734 C1075,732 1058,722 1050,709 C1042,696 1039,680 1042,665 C1046,648 1050,632 1047,613 L1002,520 C999,514 998,510 998,505 Z" stroke="#ec7f1c" stroke-width="2" fill="none" />
<polygon points="997.3,519.3 1043.3,614.3 1048.7,611.7 1002.7,516.7" stroke="#eda45a" stroke-width="1.2" fill="none"/>
<polygon points="1059.7,494.9 1076.7,537.9 1081.3,536.1 1064.3,493.1" stroke="#eda45a" stroke-width="1.2" fill="none"/>
<polygon points="1101.8,595.2 1132.8,649.2 1137.2,646.8 1106.2,592.8" stroke="#eda45a" stroke-width="1.2" fill="none"/>
<path d="M979,662 L1148,662 C1175,662 1190,680 1190,700 C1190,735 1160,760 1127,760 C1105,760 1088,752 1077,741 L1060,730 L1047,729 L990,727 C970,722 955,705 955,690 C955,672 965,662 979,662 Z" stroke="#ec7f1c" stroke-width="2" fill="none" />
<polygon points="985.9,730.0 1046.9,732.0 1047.1,726.0 986.1,724.0" stroke="#eda45a" stroke-width="1.2" fill="none"/>
<polygon points="1046,722.4 1047,725 1055.7,724.1 1064.3,727 1074.6,730.4 1081.4,732.1 1091.7,733.9 1091.7,738 1081.4,737.5 1078.6,741.4 1074.3,744.4 1072.9,738.4 1064.3,733.9 1055.7,730.4 1047,730 1046,732" stroke="#f08010" stroke-width="1.2" fill="#f08010"/>
<circle cx="1075.7" cy="712.1" r="6.6" fill="#f08010"/>
<line x1="1072" y1="717" x2="1066" y2="722" stroke="#f08010" stroke-width="3" />
<line x1="1046.5" y1="721" x2="1046.5" y2="733" stroke="#ec7f1c" stroke-width="2.2" />
<line x1="1091.7" y1="730" x2="1091.7" y2="740" stroke="#ec7f1c" stroke-width="2.2" />
<line x1="1080" y1="742" x2="1101" y2="755" stroke="#ec7f1c" stroke-width="1.8" />
<line x1="1086" y1="738" x2="1103" y2="755" stroke="#ec7f1c" stroke-width="1.8" />
<path d="M1040,703.6 C1050,705 1058,712 1068,725" stroke="#ec7f1c" stroke-width="2" fill="none" />
<path d="M990,745 L1015,766 C1025,775 1035,781 1045,783.6" stroke="#ec7f1c" stroke-width="2" fill="none" />
<line x1="1040" y1="783.6" x2="1120" y2="783.6" stroke="#ec7f1c" stroke-width="2" />
<polygon points="1010.4,772.7 1015.4,768.4 1020.7,772.7 1029.3,777.3 1037.9,779.6 1045.3,780.7 1046,778 1047.5,779 1047.5,787 1054.4,794.1 1049.6,799 1040.7,792.7 1032.1,788.7 1024.7,788.1 1019,789.3 1018,780.7 1013.9,774" stroke="#f08010" stroke-width="1.2" fill="#f08010"/>
<circle cx="1024.7" cy="801.3" r="6.9" fill="#f08010"/>
<line x1="1024.5" y1="788" x2="1024.5" y2="798" stroke="#f08010" stroke-width="3.5" />
<path d="M1120,783.6 L1160,783.6 C1180,782 1196,774 1208,760 C1222,745 1226,712 1216,682 C1210,668 1200,658 1194,654" stroke="#ec7f1c" stroke-width="2" fill="none" />
<path d="M1068,725 L1100,750 L1177,829 C1184,840 1184,862 1174,872 C1164,882 1144,882 1131,874 L1050,793" stroke="#ec7f1c" stroke-width="2" fill="none" />
<path d="M1177,829 C1188,840 1192,866 1182,880 C1170,892 1148,890 1137,880 L1054,797" stroke="#ec7f1c" stroke-width="1.8" fill="none" />
<path d="M1180,833 C1196,848 1198,876 1188,888 C1176,898 1152,898 1141,885 L1057,801" stroke="#ec7f1c" stroke-width="1.8" fill="none" />
<polygon points="1058.2,807.8 1126.2,875.8 1129.8,872.2 1061.8,804.2" stroke="#eda45a" stroke-width="1.2" fill="none"/>
<polygon points="1137.3,793.8 1170.9,825.6 1174.3,822.0 1140.7,790.2" stroke="#eda45a" stroke-width="1.2" fill="none"/>
<line x1="1056.2" y1="790.8" x2="1047.8" y2="799.2" stroke="#ec7f1c" stroke-width="1.5" />
<line x1="1130.2" y1="867.8" x2="1121.8" y2="876.2" stroke="#ec7f1c" stroke-width="1.5" />
<line x1="1099.2" y1="833.8" x2="1090.8" y2="842.2" stroke="#ec7f1c" stroke-width="1.5" />
<line x1="1144.2" y1="787.8" x2="1135.8" y2="796.2" stroke="#ec7f1c" stroke-width="1.5" />
<line x1="1176.2" y1="819.8" x2="1167.8" y2="828.2" stroke="#ec7f1c" stroke-width="1.5" />
<path d="M1208,630 C1218,624 1240,622 1252,632 C1258,640 1260,650 1260,660 L1260,760 C1260,782 1250,793 1230,793 C1210,793 1196,782 1195,760 L1195,714 C1195,700 1190,690 1190,672" stroke="#ec7f1c" stroke-width="2" fill="none" />
<polygon points="1257.0,656.0 1257.0,761.0 1263.5,761.0 1263.5,656.0" stroke="#eda45a" stroke-width="1.2" fill="none"/>
<polygon points="1192.0,714.0 1192.0,762.0 1198.0,762.0 1198.0,714.0" stroke="#eda45a" stroke-width="1.2" fill="none"/>
<line x1="1189.4" y1="622.4" x2="1189.4" y2="672.2" stroke="#ec7f1c" stroke-width="4.5" />
<line x1="1185" y1="622.4" x2="1196" y2="622.4" stroke="#ec7f1c" stroke-width="2.2" />
<line x1="1185" y1="672" x2="1196" y2="672" stroke="#ec7f1c" stroke-width="2.2" />
<line x1="1185" y1="632.5" x2="1194" y2="632.5" stroke="#ec7f1c" stroke-width="1.6" />
<line x1="1185" y1="639.8" x2="1196" y2="639.8" stroke="#ec7f1c" stroke-width="1.6" />
<line x1="1190" y1="629" x2="1203" y2="629" stroke="#ec7f1c" stroke-width="4.5" />
<path d="M1200,636.6 C1196,642 1194.5,648 1194.3,653 L1203,668 L1208,673" stroke="#ec7f1c" stroke-width="2" fill="none" />
<path d="M1191.9,653.6 L1202.4,668.2 L1207.2,672.2" stroke="#ec7f1c" stroke-width="1.6" fill="none" />
<line x1="1207.5" y1="666.5" x2="1200.5" y2="673.5" stroke="#ec7f1c" stroke-width="1.8" />
<path d="M1136,646 C1140,660 1140,690 1136,700 C1132,712 1126,720 1120,726" stroke="#ec7f1c" stroke-width="1.6" fill="none" />
<rect x="887" y="683" width="36" height="34" transform="rotate(-5 905 700)" stroke="#e9a25c" stroke-width="1.1" fill="none"/>
<rect x="907" y="681" width="36" height="34" transform="rotate(-12 925 698)" stroke="#e9a25c" stroke-width="1.1" fill="none"/>
<rect x="927" y="678" width="36" height="34" transform="rotate(-20 945 695)" stroke="#e9a25c" stroke-width="1.1" fill="none"/>
<rect x="947" y="673" width="36" height="34" transform="rotate(-28 965 690)" stroke="#e9a25c" stroke-width="1.1" fill="none"/>
<rect x="967" y="668" width="36" height="34" transform="rotate(-36 985 685)" stroke="#e9a25c" stroke-width="1.1" fill="none"/>
<rect x="985" y="663" width="36" height="34" transform="rotate(-44 1003 680)" stroke="#e9a25c" stroke-width="1.1" fill="none"/>
<path d="M955,694 C975,690 995,684 1020,676 C1040,669 1055,664 1070,658" stroke="#ec7f1c" stroke-width="1.6" fill="none" />
<path d="M960,690 C980,684 1000,672 1030,655 C1045,646 1055,640 1062,632" stroke="#eda45a" stroke-width="1.2" fill="none" />
<circle cx="967" cy="676" r="7" fill="#ec7f1c"/>
<line x1="967" y1="683" x2="967" y2="694" stroke="#ec7f1c" stroke-width="2.5" />
<line x1="960.0" y1="689.6" x2="960.0" y2="699.6" stroke="#ec7f1c" stroke-width="1.4" />
<line x1="970.0" y1="689.6" x2="970.0" y2="699.6" stroke="#ec7f1c" stroke-width="1.4" />
<line x1="980.0" y1="689.6" x2="980.0" y2="699.6" stroke="#ec7f1c" stroke-width="1.4" />
<line x1="1026" y1="668" x2="1052" y2="642" stroke="#ec7f1c" stroke-width="4.5" />
<line x1="1019.8" y1="665.8" x2="1028.2" y2="674.2" stroke="#ec7f1c" stroke-width="2" />
<line x1="1049.8" y1="635.8" x2="1058.2" y2="644.2" stroke="#ec7f1c" stroke-width="2" />
<line x1="903.5" y1="694.6" x2="910.5" y2="694.6" stroke="#ec7f1c" stroke-width="1.1" />
<line x1="907.0" y1="691.1" x2="907.0" y2="698.1" stroke="#ec7f1c" stroke-width="1.1" />
<line x1="921.5" y1="694.6" x2="928.5" y2="694.6" stroke="#ec7f1c" stroke-width="1.1" />
<line x1="925.0" y1="691.1" x2="925.0" y2="698.1" stroke="#ec7f1c" stroke-width="1.1" />
<line x1="941.5" y1="694.6" x2="948.5" y2="694.6" stroke="#ec7f1c" stroke-width="1.1" />
<line x1="945.0" y1="691.1" x2="945.0" y2="698.1" stroke="#ec7f1c" stroke-width="1.1" />
<line x1="961.5" y1="694.6" x2="968.5" y2="694.6" stroke="#ec7f1c" stroke-width="1.1" />
<line x1="965.0" y1="691.1" x2="965.0" y2="698.1" stroke="#ec7f1c" stroke-width="1.1" />
<line x1="984.5" y1="694.6" x2="991.5" y2="694.6" stroke="#ec7f1c" stroke-width="1.1" />
<line x1="988.0" y1="691.1" x2="988.0" y2="698.1" stroke="#ec7f1c" stroke-width="1.1" />
<line x1="1002.5" y1="694.6" x2="1009.5" y2="694.6" stroke="#ec7f1c" stroke-width="1.1" />
<line x1="1006.0" y1="691.1" x2="1006.0" y2="698.1" stroke="#ec7f1c" stroke-width="1.1" />
<line x1="971.0" y1="778.6" x2="971.0" y2="788.6" stroke="#ec7f1c" stroke-width="1.6" />
<rect x="1040" y="674" width="73" height="40" stroke="#e0a058" stroke-width="1.3" fill="none" stroke-dasharray="14 8"/>
<line x1="1085.0" y1="694.0" x2="1093.0" y2="694.0" stroke="#ec7f1c" stroke-width="1" />
<line x1="1089.0" y1="690.0" x2="1089.0" y2="698.0" stroke="#ec7f1c" stroke-width="1" />
<rect x="1256" y="835" width="45" height="15" stroke="#2f7fdc" stroke-width="1.5" fill="none" />
<line x1="1256" y1="835" x2="1301" y2="835" stroke="#2f7fdc" stroke-width="2.2" />
<rect x="1253" y="850" width="62" height="8" stroke="#2f7fdc" stroke-width="1.3" fill="none" />
<rect x="1261" y="858" width="54" height="79" stroke="#2f7fdc" stroke-width="1.4" fill="none" />
<line x1="1281" y1="858" x2="1281" y2="937" stroke="#2f7fdc" stroke-width="1" />
<rect x="1237" y="871" width="24" height="53" stroke="#2f7fdc" stroke-width="1.3" fill="none" />
<rect x="1289" y="871" width="26" height="53" stroke="#2f7fdc" stroke-width="1.3" fill="none" />
<line x1="1237" y1="881" x2="1261" y2="881" stroke="#2f7fdc" stroke-width="1.1" />
<line x1="1289" y1="881" x2="1315" y2="881" stroke="#2f7fdc" stroke-width="1.1" />
<line x1="1237" y1="892" x2="1261" y2="892" stroke="#2f7fdc" stroke-width="1.1" />
<line x1="1289" y1="892" x2="1315" y2="892" stroke="#2f7fdc" stroke-width="1.1" />
<line x1="1237" y1="903" x2="1261" y2="903" stroke="#2f7fdc" stroke-width="1.1" />
<line x1="1289" y1="903" x2="1315" y2="903" stroke="#2f7fdc" stroke-width="1.1" />
<line x1="1237" y1="913" x2="1261" y2="913" stroke="#2f7fdc" stroke-width="1.1" />
<line x1="1289" y1="913" x2="1315" y2="913" stroke="#2f7fdc" stroke-width="1.1" />
<path d="M1254,848 L1276,900 L1310,842" stroke="#2f7fdc" stroke-width="1.4" fill="none" />
<polygon points="1305,842 1311,846 1280,902 1274,898" stroke="#2f7fdc" stroke-width="1.4" fill="none"/>
<circle cx="1276" cy="900" r="4" stroke="#2f7fdc" stroke-width="1.4" fill="none"/>
<rect x="1270" y="900" width="14" height="23" stroke="#2f7fdc" stroke-width="1.3" fill="none" />
<rect x="1273" y="878" width="7" height="7" stroke="#2f7fdc" stroke-width="1.1" fill="none" />
<path d="M1250,943 L1253,937 L1315,937 L1315,943" stroke="#2f7fdc" stroke-width="1.4" fill="none" />
<rect x="1315" y="852" width="6" height="91" stroke="#2f7fdc" stroke-width="1.3" fill="none" />
<circle cx="1305" cy="842" r="3" stroke="#2f7fdc" stroke-width="1.5" fill="none"/></svg>
<svg style="position:absolute;left:0;top:0" width="1400" height="1050" viewBox="0 0 1400 1050" font-family="Liberation Sans, sans-serif"><defs><filter id="sh" x="-5%" y="-20%" width="110%" height="140%"><feDropShadow dx="1.2" dy="1.2" stdDeviation="0.8" flood-color="#001a40" flood-opacity="0.55"/></filter></defs><text x="87.90 129.12 165.06 201.53 217.34 231.45 262.03 299.56 320.60 335.40 371.17 408.41 425.94 467.44 502.51 532.56 563.00 597.00 627.05 659.29 676.81 720.26 740.29 777.20 800.94 815.43 849.43" y="111" font-size="63.5" fill="#fff" transform="scale(1.08,1)" style="filter:url(#sh)">Application Success Stories</text><text x="790.34 809.28 825.76 844.26 851.82 866.94 873.58 889.40 906.21 915.40 922.16 937.98 954.14 964.29 974.44 981.66 1002.01 1018.01 1028.66 1052.34 1067.88 1084.09" y="1011.7" font-size="27.9" fill="#9a9a9a" transform="scale(1.08,1)" >RZB Lighting / Germany</text><text x="1294.2" y="1009" font-size="20.7" fill="#9a9a9a">4</text></svg>
<svg style="position:absolute;left:0;top:940px" width="260" height="90" viewBox="0 940 260 90"><path d="M89,989.5 A23,23 0 0 1 110.5,966.6 L110.5,973.1 A16.5,16.5 0 0 0 95.5,989.5 Z" fill="#d81e1e"/><text x="96" y="1009.5" font-family="Liberation Sans, sans-serif" font-size="48.5" font-weight="bold" fill="#1e1e1e" textLength="113.5" lengthAdjust="spacingAndGlyphs">Gema</text></svg>


</body></html>
